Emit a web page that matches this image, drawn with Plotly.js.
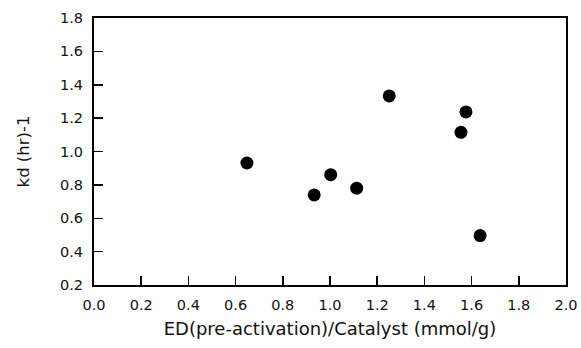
<!DOCTYPE html>
<html><head><meta charset="utf-8">
<script src="https://cdn.plot.ly/plotly-3.0.1.min.js"></script>
<style>body{margin:0;padding:0;background:#fff}#c{width:581px;height:348px}</style>
</head><body><div id="c"></div>
<script>
const xVals = [0.648, 0.933, 1.003, 1.113, 1.251, 1.576, 1.555, 1.636];
const yVals = [0.931, 0.740, 0.861, 0.780, 1.333, 1.237, 1.115, 0.496];
const xTicks = [0.0,0.2,0.4,0.6,0.8,1.0,1.2,1.4,1.6,1.8,2.0];
const yTicks = [0.2,0.4,0.6,0.8,1.0,1.2,1.4,1.6,1.8];
const fontFam = 'DejaVu Sans, Liberation Sans, Arial, sans-serif';
Plotly.newPlot('c', [{
  x: xVals, y: yVals, type: 'scatter', mode: 'markers',
  marker: {size: 13, color: '#000'}
}], {
  width: 581, height: 348,
  margin: {l: 94, r: 15, t: 18, b: 63},
  paper_bgcolor: '#fff', plot_bgcolor: '#fff',
  showlegend: false,
  font: {family: fontFam, color: '#111', size: 14.5},
  xaxis: {
    range: [0, 2], tickvals: xTicks, ticktext: xTicks.map(v => v.toFixed(1)),
    ticks: 'inside', ticklen: 9, tickwidth: 1.5, tickcolor: '#000',
    showline: true, linewidth: 2, linecolor: '#000', mirror: true,
    showgrid: false, zeroline: false, ticklabelstandoff: 6,
    tickfont: {size: 14.5},
    title: {text: 'ED(pre-activation)/Catalyst (mmol/g)', font: {size: 18}, standoff: 10}
  },
  yaxis: {
    range: [0.2, 1.8], tickvals: yTicks, ticktext: yTicks.map(v => v.toFixed(1)),
    ticks: 'inside', ticklen: 9, tickwidth: 1.5, tickcolor: '#000',
    showline: true, linewidth: 2, linecolor: '#000', mirror: true,
    showgrid: false, zeroline: false, ticklabelstandoff: 6,
    tickfont: {size: 14.5},
    title: {text: 'kd (hr)-1', font: {size: 16.5}, standoff: 26}
  }
}, {staticPlot: true});
</script></body></html>
